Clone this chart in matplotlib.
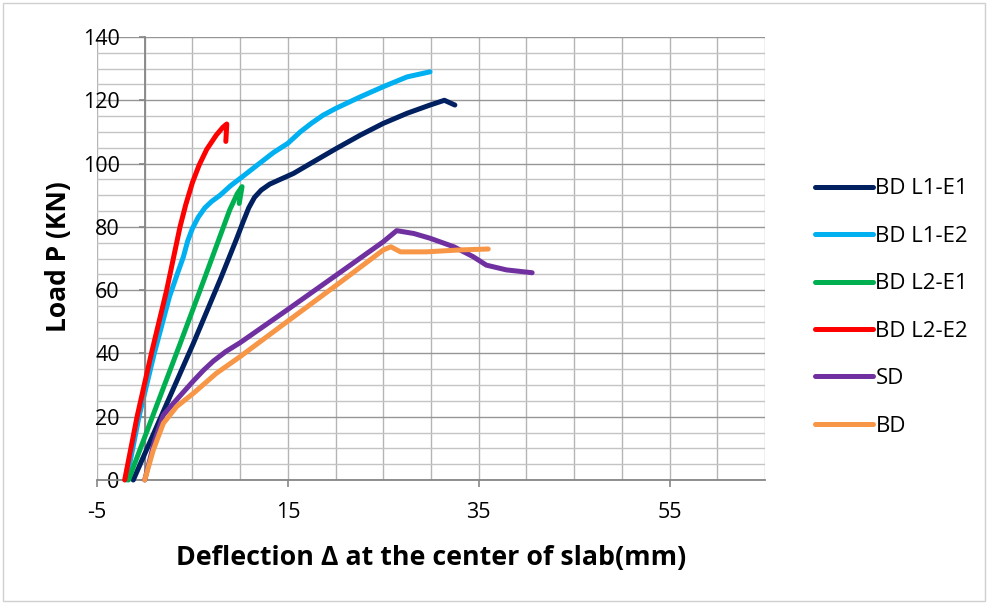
import matplotlib
matplotlib.use("Agg")
import matplotlib.pyplot as plt
from matplotlib.patches import Rectangle
from matplotlib.ticker import MultipleLocator

plt.rcParams['font.family'] = ['Open Sans', 'DejaVu Sans']
plt.rcParams['axes.unicode_minus'] = False

# ---- data ----
l1e1_x = [-1.2, 2.0, 5.1, 8.0, 9.6, 10.3, 10.9, 11.5, 12.2, 13.1, 14.2, 15.6, 17.7, 20.1, 22.6, 25.0, 27.5, 29.9, 31.4, 32.5]
l1e1_y = [0, 22, 43.2, 64, 76, 81.5, 86, 89.3, 91.6, 93.5, 95, 96.9, 100.6, 104.8, 109, 112.7, 115.9, 118.5, 120, 118.5]

l1e2_x = [-1.9, -0.6, 1.0, 2.6, 3.4, 4.05, 4.5, 5.0, 5.6, 6.3, 7.0, 7.9, 9.0, 10.3, 12.0, 13.5, 15.0, 16.3, 17.5, 18.7, 20.0, 22.6, 25.0, 27.5, 29.9]
l1e2_y = [0, 20, 40, 58, 65, 70.5, 75.5, 79.5, 83, 86, 88, 90, 93, 96, 100, 103.5, 106.4, 110, 112.8, 115.3, 117.4, 121.1, 124.3, 127.4, 129]

l2e1_x = [-1.7, 1.0, 3.7, 6.3, 8.9, 9.7, 10.2, 9.9]
l2e1_y = [0, 21.5, 43, 64, 85.3, 90.5, 92.7, 87.4]

l2e2_x = [-2.1, -0.8, 0.7, 2.3, 3.0, 3.7, 4.3, 5.0, 5.7, 6.5, 7.5, 8.2, 8.6, 8.5]
l2e2_y = [0, 20, 40, 60, 70, 80, 87, 94, 99.5, 104.5, 109, 111.5, 112.5, 107]

sd_x = [0, 1.0, 1.95, 3.0, 4.0, 5.1, 6.2, 7.2, 8.5, 10, 14.9, 20.1, 25, 26.4, 28.2, 29.9, 32.4, 34.4, 35.8, 37.9, 40.6]
sd_y = [0, 12, 20.5, 24.2, 27.6, 31.3, 34.8, 37.6, 40.6, 43.4, 53.7, 64.8, 75.3, 78.8, 77.9, 76.4, 73.7, 70.6, 67.9, 66.4, 65.5]

bd_x = [0, 0.9, 1.95, 3.35, 5.1, 7.5, 10, 14.9, 20.1, 25, 25.8, 26.8, 29.5, 33, 36]
bd_y = [0, 9.5, 17.9, 23.2, 27.4, 33.7, 39, 50, 61.6, 72.7, 73.7, 72.1, 72.1, 72.7, 73]

series_names = ['BD L1-E1', 'BD L1-E2', 'BD L2-E1', 'BD L2-E2', 'SD', 'BD']
series_colors = ['#002060', '#00B0F0', '#00B050', '#FF0000', '#7030A0', '#F79646']

x_ticks = [-5, 15, 35, 55]
y_ticks = [0, 20, 40, 60, 80, 100, 120, 140]

# ---- figure ----
fig = plt.figure(figsize=(9.88, 6.04), dpi=100)
ax = fig.add_axes([97/988, 1 - 480/604, 668/988, 443/604])

ax.set_xlim(-5, 65)
ax.set_ylim(0, 140)

ax.xaxis.set_minor_locator(MultipleLocator(5))
ax.yaxis.set_minor_locator(MultipleLocator(5))
ax.set_xticks(x_ticks)
ax.set_yticks(y_ticks)
for v in range(-5, 66, 5):
    ax.axvline(v, color='#b5b5b5', lw=1.0, zorder=0.5)
for h in range(0, 141, 5):
    c = '#969696' if h % 20 == 0 else '#c4c4c4'
    ax.axhline(h, color=c, lw=1.0, zorder=0.5)

for s in ['top', 'right']:
    ax.spines[s].set_visible(False)
ax.spines['left'].set_position(('data', 0))
ax.spines['left'].set_color('#868686')
ax.spines['left'].set_linewidth(1.3)
ax.spines['bottom'].set_color('#868686')
ax.spines['bottom'].set_linewidth(1.3)

ax.tick_params(axis='x', which='major', direction='out', length=5, width=1.2,
               color='#868686', pad=11, labelsize=15.5)
ax.tick_params(axis='y', which='major', direction='out', length=4, width=1.2,
               color='#868686', pad=14, labelsize=15.5)
ax.tick_params(which='minor', length=0)

all_x = [l1e1_x, l1e2_x, l2e1_x, l2e2_x, sd_x, bd_x]
all_y = [l1e1_y, l1e2_y, l2e1_y, l2e2_y, sd_y, bd_y]
zorders = [3, 2, 4, 5, 6, 7]
for xs, ys, name, col, z in zip(all_x, all_y, series_names, series_colors, zorders):
    ax.plot(xs, ys, color=col, lw=3.6, label=name, solid_capstyle='round',
            solid_joinstyle='round', zorder=z, clip_on=False)

ax.set_xlabel('Deflection Δ at the center of slab(mm)', fontsize=19.3, fontweight='bold')
ax.set_ylabel('Load P (KN)', fontsize=19, fontweight='bold')
ax.xaxis.label.set_va('center')
ax.xaxis.set_label_coords((431 - 97) / 668, -(558 - 480) / 443)
ax.yaxis.set_label_coords((72 - 97) / 668, (480 - 257) / 443)

leg = ax.legend(loc='center left', bbox_to_anchor=(815 / 988, (604 - 307.5) / 604),
                bbox_transform=fig.transFigure, frameon=False,
                fontsize=16, handlelength=2.6, handletextpad=0.12, labelspacing=1.19,
                borderaxespad=0, borderpad=0)

fig.add_artist(Rectangle((3/988, 3/604), 982/988, 598/604, transform=fig.transFigure,
                         fill=False, edgecolor='#d0d0d0', lw=1.0))

fig.savefig('out.png', dpi=100)
